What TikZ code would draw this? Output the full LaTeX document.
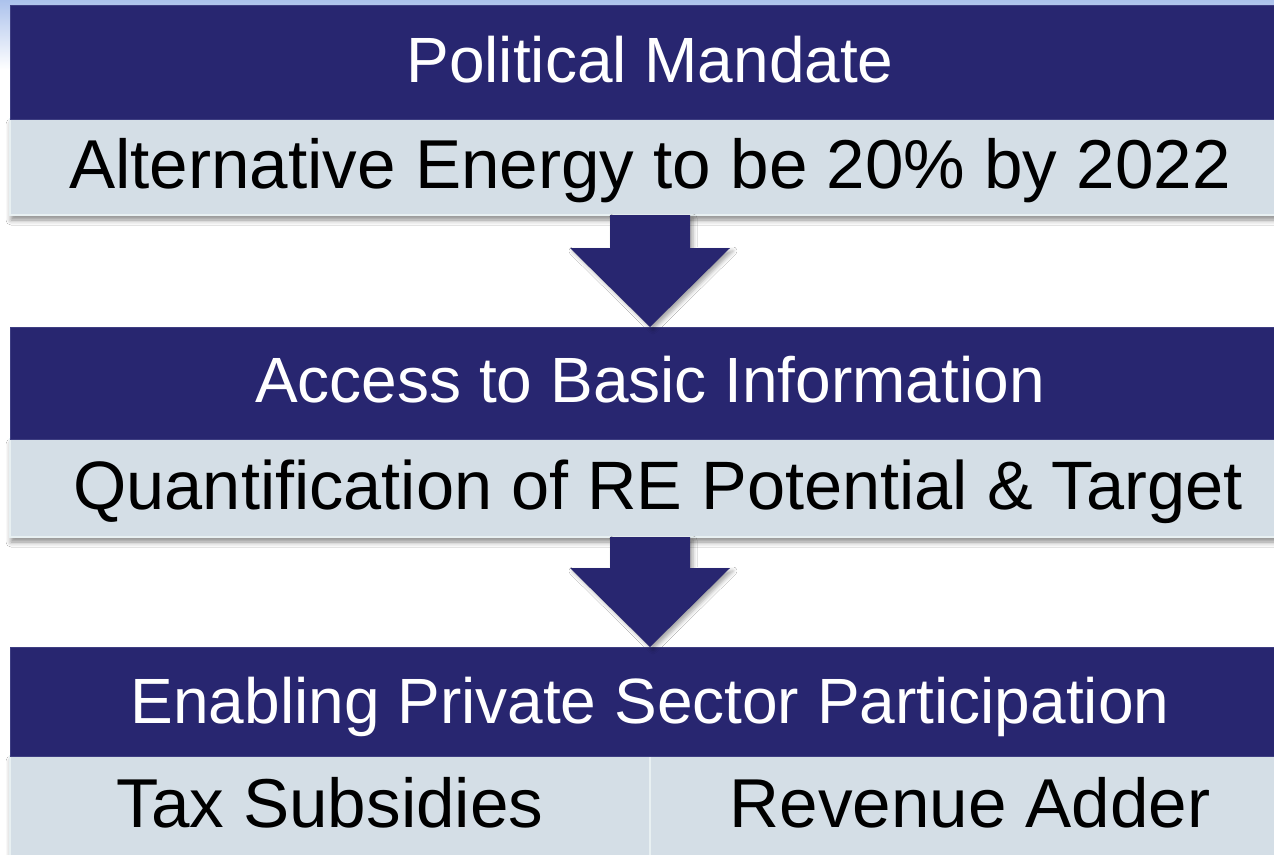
\documentclass[tikz,border=0pt]{standalone}
\usepackage{fontspec}
\setmainfont{Liberation Sans}
\usetikzlibrary{calc,shadows.blur}
\definecolor{navy}{RGB}{40,38,112}
\definecolor{navyedge}{RGB}{62,62,130}
\definecolor{lightrow}{RGB}{212,222,230}
\definecolor{rowedge}{RGB}{232,240,242}
\definecolor{skyblue}{RGB}{172,194,236}
\tikzset{
  hdr/.style={fill=navy, draw=navyedge, line width=1pt, anchor=north west,
    minimum width=1280pt, inner sep=0pt, outer sep=0pt},
  cell/.style={fill=lightrow, draw=rowedge, line width=2pt, anchor=north west,
    inner sep=0pt, outer sep=0pt},
  lrow/.style={cell,
    blur shadow={shadow xshift=1pt, shadow yshift=-5pt, shadow blur radius=5pt, shadow opacity=45}},
  htxt/.style={text=white, font=\fontsize{64}{70}\selectfont, anchor=base, inner sep=0pt},
  ltxt/.style={text=black, font=\fontsize{69.2}{76}\selectfont, anchor=base, inner sep=0pt},
  blockarrow/.style={fill=navy,
    blur shadow={shadow xshift=3pt, shadow yshift=-3pt, shadow blur radius=4pt, shadow opacity=35}},
}
\newcommand{\blockarrowfrom}[2]{%
  \path[blockarrow] ($(#1.south)+(-40,0)$) -- ($(#2.north)+(-40,-79)$) -- ($(#2.north)+(-80,-79)$)
    -- (#2.north) -- ($(#2.north)+(80,-79)$) -- ($(#2.north)+(40,-79)$) -- ($(#1.south)+(40,0)$) -- cycle;}
\begin{document}
\begin{tikzpicture}[x=1pt,y=-1pt]
\useasboundingbox (0,0) rectangle (1274,854);
\fill[white] (0,0) rectangle (1274,854);
\shade[top color=skyblue, bottom color=white] (0,0) rectangle (1274,70);
\fill[white] (10,5) rectangle (1274,854);

% box 1
\node[lrow, minimum width=1280pt, minimum height=96pt] (l1) at (10,119) {};
\node[hdr, minimum height=114pt] (h1) at (10,5) {};
\node[htxt] (t1) at ($(h1.north)+(0,77)$) {Political Mandate};
\node[ltxt] (s1) at ($(l1.north)+(0,69)$) {Alternative Energy to be 20\% by 2022};

% box 2
\node[lrow, minimum width=1280pt, minimum height=98pt] (l2) at (10,439) {};
\node[hdr, minimum height=112pt] (h2) at (10,327) {};
\node[htxt] (t2) at ($(h2.north)+(0,75)$) {Access to Basic Information};
\node[ltxt, font=\fontsize{68.5}{76}\selectfont] (s2) at ($(l2.north)+(8,70)$) {Quantification of RE Potential \& Target};

% box 3
\node[lrow, minimum width=1280pt, minimum height=100pt] (l3) at (10,756) {};
\node[cell, minimum width=640pt, minimum height=100pt] (l3a) at (10,756) {};
\node[cell, minimum width=640pt, minimum height=100pt] (l3b) at (650,756) {};
\node[hdr, minimum height=109pt] (h3) at (10,647) {};
\node[htxt] (t3) at ($(h3.north)+(0,76)$) {Enabling Private Sector Participation};
\node[ltxt] (s3a) at ($(l3a.north)+(0,71)$) {Tax Subsidies};
\node[ltxt] (s3b) at ($(l3b.north)+(0,71)$) {Revenue Adder};

% arrows
\blockarrowfrom{l1}{h2}
\blockarrowfrom{l2}{h3}
\end{tikzpicture}
\end{document}
